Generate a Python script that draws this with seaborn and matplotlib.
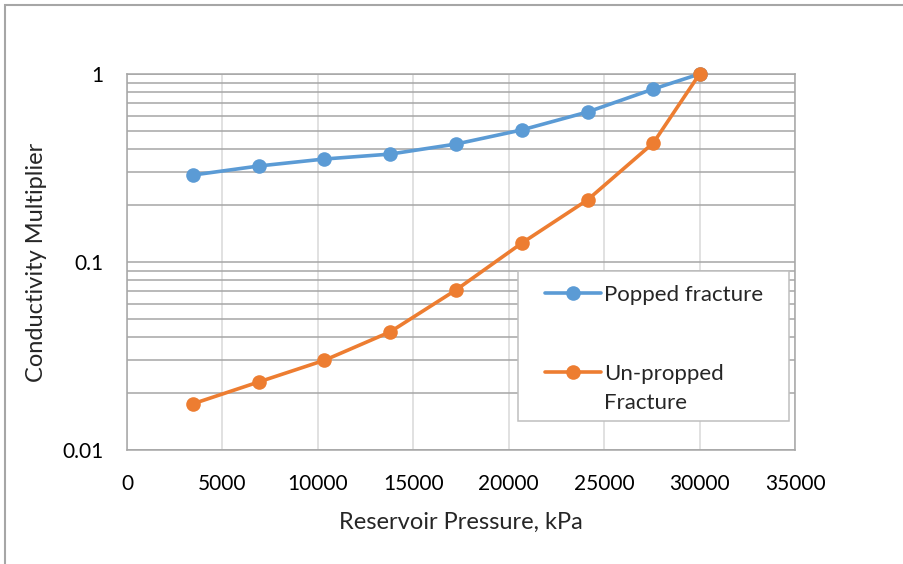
import matplotlib
matplotlib.use("Agg")
import matplotlib.pyplot as plt
import seaborn as sns
import pandas as pd
import numpy as np
from matplotlib.patches import Rectangle
from matplotlib.ticker import LogLocator, FixedLocator, NullFormatter, FixedFormatter

pressure = [3447, 6895, 10342, 13790, 17237, 20684, 24132, 27579, 30000]
propped = [0.290, 0.324, 0.353, 0.375, 0.424, 0.504, 0.628, 0.832, 1.0]
unpropped = [0.0176, 0.023, 0.030, 0.0425, 0.071, 0.126, 0.214, 0.430, 1.0]
series_names = ["Popped fracture", "Un-propped\nFracture"]
x_ticks = [0, 5000, 10000, 15000, 20000, 25000, 30000, 35000]
y_ticks = [0.01, 0.1, 1]
y_tick_labels = ["0.01", "0.1", "1"]

df = pd.concat([
    pd.DataFrame({"x": pressure, "y": propped, "s": series_names[0]}),
    pd.DataFrame({"x": pressure, "y": unpropped, "s": series_names[1]}),
])

sns.set_theme(style="white")
plt.rcParams["font.family"] = ["Lato", "DejaVu Sans"]

W, H = 904, 564
L, R, T, B = 127, 795, 74, 450
fig = plt.figure(figsize=(W / 100, H / 100), dpi=100)
ax = fig.add_axes([L / W, 1 - B / H, (R - L) / W, (B - T) / H])

def ax_xy(px, py):
    return ((px - L) / (R - L), (B - py) / (B - T))

palette = {series_names[0]: "#5B9BD5", series_names[1]: "#ED7D31"}
sns.lineplot(data=df, x="x", y="y", hue="s", palette=palette, marker="o",
             markersize=10.5, markeredgewidth=0, linewidth=2.6, ax=ax, legend=True, sort=False)
for ln in ax.lines:
    ln.set_clip_on(False)
    ln.set_zorder(5)

ax.set_yscale("log")
ax.set_xlim(0, 35000)
ax.set_ylim(0.01, 1)
ax.xaxis.set_major_locator(FixedLocator(x_ticks))
ax.set_xticklabels([str(t) for t in x_ticks])
ax.yaxis.set_major_locator(FixedLocator(y_ticks))
ax.yaxis.set_major_formatter(FixedFormatter(y_tick_labels))
ax.yaxis.set_minor_locator(LogLocator(base=10, subs=range(2, 10)))
ax.yaxis.set_minor_formatter(NullFormatter())

ax.grid(True, axis="x", which="major", color="#d9d9d9", linewidth=1.1)
ax.grid(True, axis="y", which="both", color="#a6a6a6", linewidth=1.1)
ax.set_axisbelow(True)
for sp in ax.spines.values():
    sp.set_color("#a6a6a6")
    sp.set_linewidth(1.1)

ax.tick_params(axis="x", which="both", length=0, labelsize=15, colors="#000000", pad=17)
ax.tick_params(axis="y", which="both", length=0, labelsize=15, colors="#000000", pad=17)
ax.set_xlabel("Reservoir Pressure, kPa", fontsize=17, labelpad=13)
ax.set_ylabel("Conductivity Multiplier", fontsize=17, labelpad=11)

# legend frame
x0, y0 = ax_xy(518, 421)
x1, y1 = ax_xy(789, 271)
ax.add_patch(Rectangle((x0, y0), x1 - x0, y1 - y0, transform=ax.transAxes,
                       facecolor="white", edgecolor="#bfbfbf", linewidth=1.1, zorder=10))

leg = ax.legend(loc="upper left", bbox_to_anchor=ax_xy(545, 285), frameon=False,
                fontsize=16, labelspacing=2.65, handlelength=2.5, handletextpad=0.15,
                borderpad=0, borderaxespad=0, title=None)
leg.set_zorder(11)
for t in leg.get_texts():
    t.set_linespacing(1.55)
# align the second handle with the first line of its two-line label
h2 = leg.get_lines()[1]
h2.set_ydata(np.asarray(h2.get_ydata(), dtype=float) + 12)

fig.patches.append(Rectangle((5 / W, -0.1), 1.2, 1 - 5 / H + 0.1, transform=fig.transFigure,
                             fill=False, edgecolor="#a6a6a6", linewidth=1.5))

fig.savefig("out.png", dpi=100, facecolor="white")
